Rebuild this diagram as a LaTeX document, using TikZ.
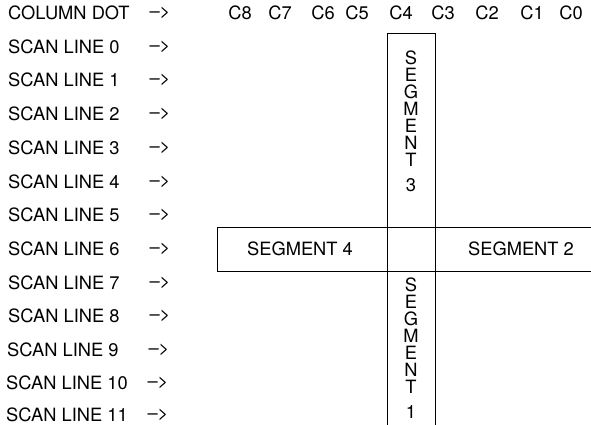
\documentclass[tikz,border=0pt]{standalone}
\usepackage{fontspec}
\setmainfont{TeX Gyre Heros}
\usepackage{tikz}

\begin{document}
\begin{tikzpicture}[
  x=1pt, y=-1pt,
  label/.style={inner sep=0pt, font=\fontsize{18.3}{20}\selectfont},
  rowlabel/.style={label, anchor=west},
  pointer/.style={label},
  collabel/.style={label},
  segtext/.style={label},
  vsegtext/.style={label, anchor=north, align=center,
    font=\fontsize{18.3}{17}\selectfont},
  box/.style={draw, line width=0.8pt},
]
\useasboundingbox (0,0) rectangle (591,425);
% row labels
\node[rowlabel] (dot) at (8,13) {COLUMN DOT};
\node[rowlabel] (s0) at (8,47) {SCAN LINE 0};
\node[rowlabel] (s1) at (8,80) {SCAN LINE 1};
\node[rowlabel] (s2) at (8,114) {SCAN LINE 2};
\node[rowlabel] (s3) at (8,148) {SCAN LINE 3};
\node[rowlabel] (s4) at (8,182) {SCAN LINE 4};
\node[rowlabel] (s5) at (8,215) {SCAN LINE 5};
\node[rowlabel] (s6) at (8,249) {SCAN LINE 6};
\node[rowlabel] (s7) at (8,283) {SCAN LINE 7};
\node[rowlabel] (s8) at (8,316) {SCAN LINE 8};
\node[rowlabel] (s9) at (7,350) {SCAN LINE 9};
\node[rowlabel] (s10) at (6,383) {SCAN LINE 10};
\node[rowlabel] (s11) at (6,415) {SCAN LINE 11};
% the text arrows
\node[pointer] (pdot) at (160,13) {-->};
\node[pointer] (p0) at (160,47) {-->};
\node[pointer] (p1) at (160,80) {-->};
\node[pointer] (p2) at (160,114) {-->};
\node[pointer] (p3) at (160,148) {-->};
\node[pointer] (p4) at (160,182) {-->};
\node[pointer] (p5) at (160,215) {-->};
\node[pointer] (p6) at (160,249) {-->};
\node[pointer] (p7) at (160,283) {-->};
\node[pointer] (p8) at (160,316) {-->};
\node[pointer] (p9) at (159,350) {-->};
\node[pointer] (p10) at (158,383) {-->};
\node[pointer] (p11) at (158,415) {-->};
% column dots
\node[collabel] (c8) at (240,13) {C8};
\node[collabel] (c7) at (280,13) {C7};
\node[collabel] (c6) at (323,13) {C6};
\node[collabel] (c5) at (357,13) {C5};
\node[collabel] (c4) at (401,13) {C4};
\node[collabel] (c3) at (443,13) {C3};
\node[collabel] (c2) at (487,13) {C2};
\node[collabel] (c1) at (532,13) {C1};
\node[collabel] (c0) at (571,13) {C0};
% segments
\draw[box] (387,425) -- (387,33) -- (435,33) -- (435,425);
\draw[box] (591,227) -- (217,227) -- (217,271) -- (591,271);
\node[vsegtext] (seg3) at (411,51) {S\\E\\G\\M\\E\\N\\T\\[8pt]3};
\node[vsegtext] (seg1) at (411,278) {S\\E\\G\\M\\E\\N\\T\\[8pt]1};
\node[segtext] (seg4) at (300,249) {SEGMENT 4};
\node[segtext] (seg2) at (521,249) {SEGMENT 2};
\end{tikzpicture}
\end{document}
